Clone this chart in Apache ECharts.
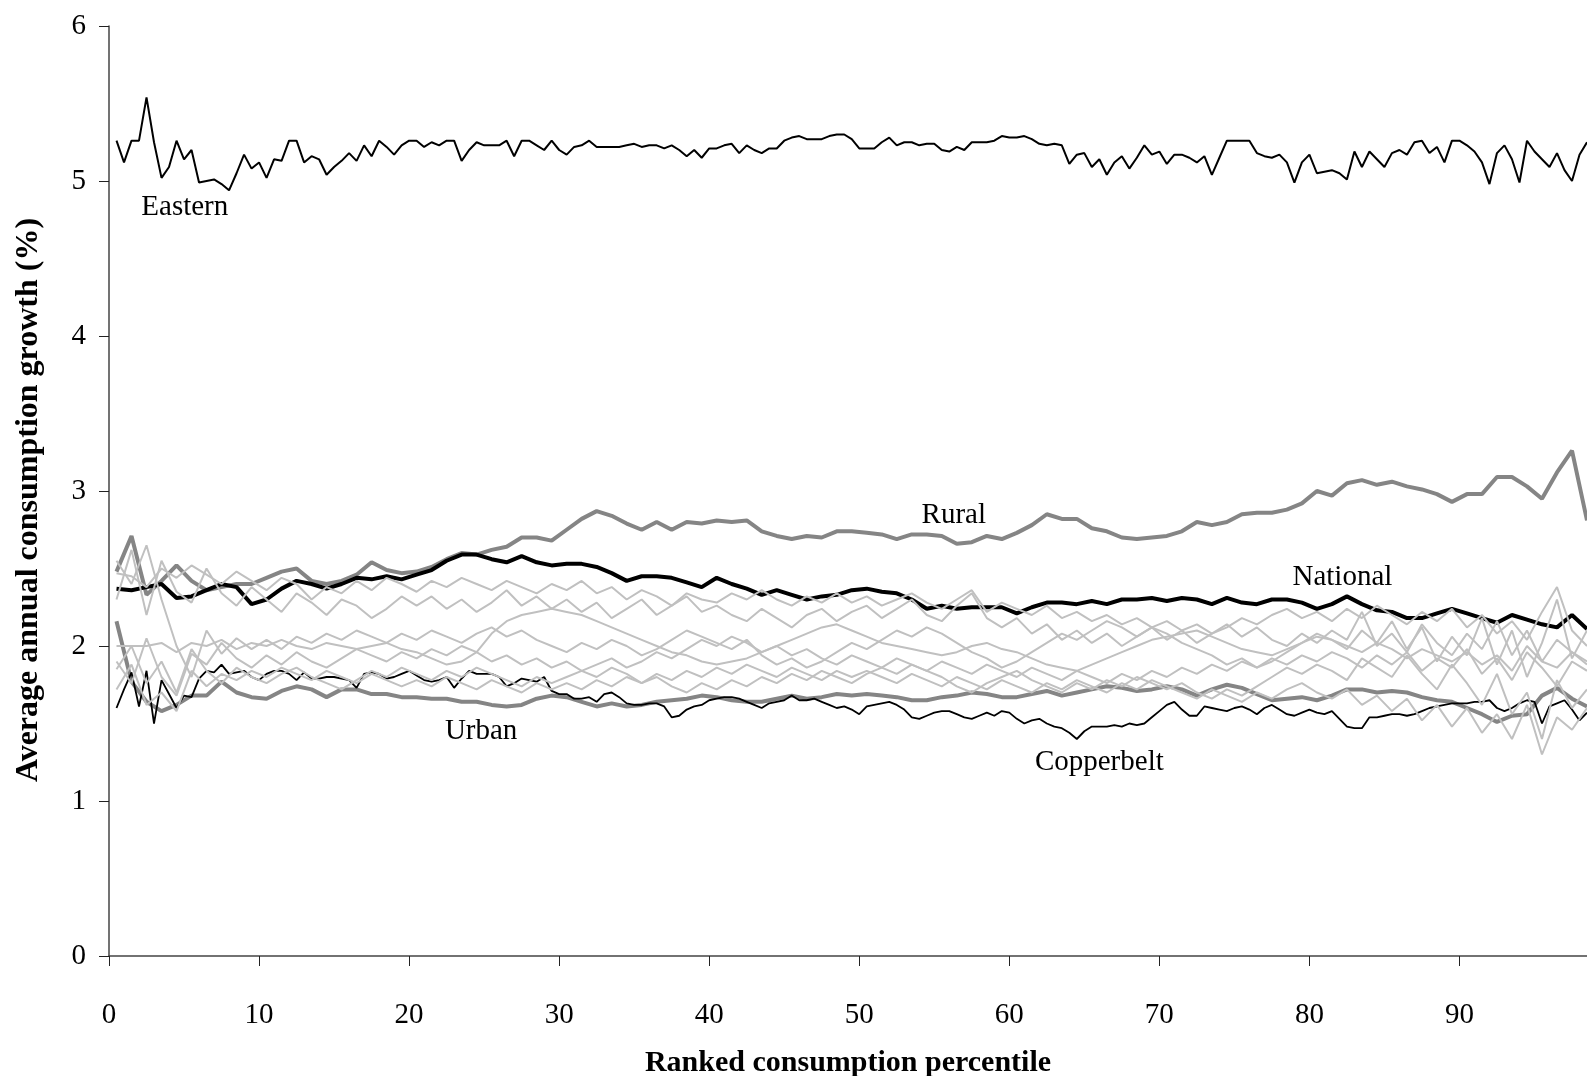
<!DOCTYPE html>
<html>
<head>
<meta charset="utf-8">
<title>Average annual consumption growth by percentile</title>
<script src="https://cdn.jsdelivr.net/npm/echarts@6/dist/echarts.min.js"></script>
<style>
    html, body { margin: 0; padding: 0; background: #fff; }
    #chart { width: 1587px; height: 1076px; }
</style>
</head>
<body>
<div id="chart"></div>
<script>
// percentile ticks shown on the x axis
const xTicks = [0, 10, 20, 30, 40, 50, 60, 70, 80, 90];

// thin lines are sampled every half percentile, the others every percentile
const pctHalf = [];
for (let i = 1; i <= 197; i++) { pctHalf.push(i / 2); }
const pctWhole = [];
for (let i = 0; i < 99; i++) { pctWhole.push(i + 0.5); }

const eastern = [
    5.26, 5.12, 5.26, 5.26, 5.54, 5.25, 5.02, 5.09, 5.26, 5.14,
    5.20, 4.99, 5.00, 5.01, 4.98, 4.94, 5.05, 5.17, 5.08, 5.12,
    5.02, 5.14, 5.13, 5.26, 5.26, 5.12, 5.16, 5.14, 5.04, 5.09,
    5.13, 5.18, 5.13, 5.23, 5.16, 5.26, 5.22, 5.17, 5.23, 5.26,
    5.26, 5.22, 5.25, 5.23, 5.26, 5.26, 5.13, 5.20, 5.25, 5.23,
    5.23, 5.23, 5.26, 5.16, 5.26, 5.26, 5.23, 5.20, 5.26, 5.20,
    5.17, 5.22, 5.23, 5.26, 5.22,
    5.22, 5.22, 5.22, 5.23, 5.24, 5.22, 5.23, 5.23, 5.21, 5.23,
    5.20, 5.16, 5.20, 5.15, 5.21, 5.21, 5.23, 5.24, 5.18, 5.23,
    5.20, 5.18, 5.21, 5.21, 5.26, 5.28, 5.29, 5.27, 5.27, 5.27,
    5.29, 5.30, 5.30, 5.27, 5.21, 5.21, 5.21, 5.25, 5.28, 5.23,
    5.25, 5.25, 5.23, 5.24, 5.24, 5.20, 5.19, 5.22, 5.20, 5.25,
    5.25, 5.25, 5.26, 5.29, 5.28, 5.28, 5.29, 5.27, 5.24, 5.23,
    5.24, 5.23, 5.11, 5.17, 5.18,
    5.09, 5.14, 5.04, 5.12, 5.16, 5.08, 5.15, 5.23, 5.17, 5.19,
    5.11, 5.17, 5.17, 5.15, 5.12, 5.16, 5.04, 5.15, 5.26, 5.26,
    5.26, 5.26, 5.18, 5.16, 5.15, 5.17, 5.12, 4.99, 5.12, 5.17,
    5.05, 5.06, 5.07, 5.05, 5.01, 5.19, 5.09, 5.19, 5.14, 5.09,
    5.18, 5.20, 5.17, 5.25, 5.26, 5.18, 5.22, 5.12, 5.26, 5.26,
    5.23, 5.19, 5.12, 4.98, 5.18, 5.23, 5.14, 4.99, 5.26, 5.19,
    5.14, 5.09, 5.18, 5.07, 5.00, 5.17, 5.25
];

const copperbelt = [
    1.60, 1.72, 1.83, 1.61, 1.84, 1.50, 1.78, 1.69, 1.60, 1.68,
    1.67, 1.79, 1.84, 1.83, 1.88, 1.82, 1.83, 1.84, 1.80, 1.78,
    1.82, 1.84, 1.84, 1.82, 1.78, 1.83, 1.79, 1.79, 1.80, 1.80,
    1.79, 1.78, 1.73, 1.82, 1.83, 1.82, 1.79, 1.80, 1.82, 1.84,
    1.81, 1.78, 1.77, 1.78, 1.80, 1.73, 1.79, 1.84, 1.82, 1.82,
    1.82, 1.80,
    1.74, 1.76, 1.79, 1.78, 1.77, 1.80, 1.71, 1.69, 1.69, 1.66,
    1.66, 1.67, 1.64, 1.69, 1.70, 1.67, 1.63, 1.62, 1.62, 1.63,
    1.63, 1.61, 1.54, 1.55, 1.59, 1.61, 1.62, 1.65, 1.66, 1.67,
    1.67, 1.66, 1.64, 1.62, 1.60, 1.63, 1.64, 1.65, 1.68, 1.65,
    1.65, 1.66, 1.64, 1.62, 1.60, 1.61, 1.59, 1.56, 1.61, 1.62,
    1.63, 1.64, 1.62, 1.59, 1.54, 1.53, 1.55, 1.57, 1.58, 1.58,
    1.56, 1.54, 1.53, 1.55, 1.57, 1.55, 1.58, 1.57, 1.53, 1.50,
    1.52, 1.53, 1.50, 1.48, 1.47, 1.44, 1.40, 1.45, 1.48, 1.48,
    1.48, 1.49, 1.48, 1.50, 1.49, 1.50, 1.54, 1.58, 1.62, 1.64,
    1.59, 1.55, 1.55, 1.61, 1.60, 1.59, 1.58, 1.60,
    1.61, 1.59, 1.56, 1.60, 1.62, 1.59, 1.56, 1.55, 1.57, 1.59,
    1.57, 1.56, 1.58, 1.53, 1.48, 1.47, 1.47, 1.54, 1.54, 1.55,
    1.56, 1.56, 1.55, 1.56, 1.58, 1.60, 1.61, 1.62, 1.63, 1.63,
    1.63, 1.64, 1.64, 1.65, 1.60, 1.58, 1.60, 1.63, 1.65, 1.64,
    1.50, 1.61, 1.63, 1.65, 1.59, 1.52, 1.57
];

const rural = [
    2.48, 2.71, 2.33, 2.42, 2.52, 2.42, 2.36, 2.38, 2.40, 2.40,
    2.44, 2.48, 2.50, 2.42, 2.40, 2.42, 2.46, 2.54, 2.49, 2.47,
    2.48, 2.51, 2.56, 2.60, 2.59, 2.62, 2.64, 2.70, 2.70, 2.68,
    2.75, 2.82, 2.87, 2.84, 2.79, 2.75, 2.80, 2.75, 2.80, 2.79,
    2.81, 2.80, 2.81, 2.74, 2.71, 2.69, 2.71, 2.70, 2.74, 2.74,
    2.73, 2.72, 2.69, 2.72, 2.72, 2.71, 2.66, 2.67, 2.71, 2.69,
    2.73, 2.78, 2.85, 2.82, 2.82, 2.76, 2.74, 2.70, 2.69, 2.70,
    2.71, 2.74, 2.80, 2.78, 2.80, 2.85, 2.86, 2.86, 2.88, 2.92,
    3.00, 2.97, 3.05, 3.07, 3.04, 3.06, 3.03, 3.01, 2.98, 2.93,
    2.98, 2.98, 3.09, 3.09, 3.03, 2.95, 3.12, 3.26, 2.81
];

const national = [
    2.37, 2.36, 2.38, 2.40, 2.31, 2.32, 2.36, 2.40, 2.38, 2.27,
    2.30, 2.37, 2.42, 2.40, 2.37, 2.40, 2.44, 2.43, 2.45, 2.43,
    2.46, 2.49, 2.55, 2.59, 2.59, 2.56, 2.54, 2.58, 2.54, 2.52,
    2.53, 2.53, 2.51, 2.47, 2.42, 2.45, 2.45, 2.44, 2.41, 2.38,
    2.44, 2.40, 2.37, 2.33, 2.36, 2.33, 2.30, 2.32, 2.33, 2.36,
    2.37, 2.35, 2.34, 2.30, 2.24, 2.26, 2.24, 2.25, 2.25, 2.25,
    2.21, 2.25, 2.28, 2.28, 2.27, 2.29, 2.27, 2.30, 2.30, 2.31,
    2.29, 2.31, 2.30, 2.27, 2.31, 2.28, 2.27, 2.30, 2.30, 2.28,
    2.24, 2.27, 2.32, 2.27, 2.23, 2.22, 2.18, 2.18, 2.21, 2.24,
    2.21, 2.18, 2.15, 2.20, 2.17, 2.14, 2.12, 2.20, 2.11
];

const urban = [
    2.16, 1.77, 1.64, 1.58, 1.62, 1.68, 1.68, 1.77, 1.70, 1.67,
    1.66, 1.71, 1.74, 1.72, 1.67, 1.72, 1.72, 1.69, 1.69, 1.67,
    1.67, 1.66, 1.66, 1.64, 1.64, 1.62, 1.61, 1.62, 1.66, 1.68,
    1.67, 1.64, 1.61, 1.63, 1.61, 1.62, 1.64, 1.65, 1.66, 1.68,
    1.67, 1.65, 1.64, 1.64, 1.66, 1.68, 1.66, 1.67, 1.69, 1.68,
    1.69, 1.68, 1.67, 1.65, 1.65, 1.67, 1.68, 1.70, 1.69, 1.67,
    1.67, 1.69, 1.71, 1.68, 1.70, 1.72, 1.74, 1.73, 1.71, 1.72,
    1.74, 1.72, 1.68, 1.72, 1.75, 1.73, 1.69, 1.65, 1.66, 1.67,
    1.65, 1.68, 1.72, 1.72, 1.70, 1.71, 1.70, 1.67, 1.65, 1.64,
    1.60, 1.56, 1.51, 1.55, 1.56, 1.68, 1.73, 1.66, 1.61
];

// remaining provinces, drawn in light grey without labels
const provinceA = [
    2.47, 2.45, 2.38, 2.50, 2.44, 2.52, 2.46, 2.40, 2.48, 2.42,
    2.36, 2.44, 2.40, 2.30, 2.38, 2.34, 2.42, 2.36, 2.44, 2.40,
    2.35, 2.42, 2.38, 2.44, 2.40, 2.36, 2.42, 2.38, 2.34, 2.40,
    2.36, 2.42, 2.34, 2.38, 2.30, 2.36, 2.32, 2.26, 2.34, 2.30,
    2.28, 2.34, 2.30, 2.36, 2.30, 2.26, 2.32, 2.28, 2.34, 2.28,
    2.32, 2.26, 2.30, 2.34, 2.28, 2.24, 2.30, 2.36, 2.22, 2.28,
    2.24, 2.20, 2.26, 2.18, 2.22, 2.16, 2.20, 2.14, 2.18, 2.12,
    2.16, 2.10, 2.14, 2.08, 2.12, 2.18, 2.14, 2.20, 2.24, 2.18,
    2.22, 2.16, 2.24, 2.18, 2.26, 2.20, 2.14, 2.22, 2.16, 2.24,
    2.12, 2.20, 2.08, 2.16, 2.04, 2.22, 2.38, 2.10, 2.00
];
const provinceB = [
    2.30, 2.62, 2.20, 2.55, 2.35, 2.28, 2.50, 2.34, 2.26, 2.38,
    2.30, 2.22, 2.34, 2.28, 2.20, 2.30, 2.26, 2.18, 2.24, 2.32,
    2.26, 2.32, 2.24, 2.30, 2.22, 2.28, 2.36, 2.26, 2.32, 2.24,
    2.30, 2.22, 2.28, 2.18, 2.24, 2.30, 2.20, 2.26, 2.32, 2.22,
    2.26, 2.20, 2.16, 2.24, 2.18, 2.12, 2.20, 2.24, 2.16, 2.22,
    2.26, 2.18, 2.24, 2.30, 2.20, 2.16, 2.26, 2.34, 2.18, 2.12,
    2.18, 2.08, 2.14, 2.04, 2.10, 2.02, 2.08, 2.00, 2.06, 2.12,
    2.04, 2.10, 2.02, 2.08, 2.14, 2.06, 2.12, 2.04, 2.00, 2.08,
    2.02, 2.10, 2.04, 2.22, 2.00, 2.08, 1.96, 2.14, 2.02, 1.94,
    2.08, 1.98, 2.16, 1.94, 2.10, 1.90, 2.04, 1.96, 1.88
];
const provinceC = [
    2.00, 2.00, 2.00, 2.02, 1.96, 2.02, 2.00, 2.04, 1.98, 2.02,
    2.00, 2.04, 2.00, 1.98, 2.02, 2.00, 1.98, 2.00, 2.02, 1.98,
    1.96, 1.92, 1.88, 1.90, 1.96, 2.08, 2.16, 2.20, 2.22, 2.24,
    2.22, 2.20, 2.16, 2.12, 2.08, 2.04, 2.00, 1.96, 1.94, 1.90,
    1.88, 1.90, 1.92, 1.96, 2.00, 2.04, 2.08, 2.12, 2.14, 2.10,
    2.06, 2.02, 2.00, 1.98, 1.96, 1.94, 1.96, 2.00, 2.02, 1.98,
    1.96, 1.92, 1.88, 1.86, 1.84, 1.88, 1.92, 1.96, 2.00, 2.04,
    2.06, 2.08, 2.10, 2.06, 2.02, 1.98, 1.96, 1.94, 1.98, 2.02,
    2.06, 2.04, 2.00, 1.96, 2.02, 1.98, 1.92, 1.98, 1.94, 1.90,
    1.96, 1.88, 1.94, 1.84, 2.00, 1.90, 1.86, 1.96, 1.90
];
const provinceD = [
    1.90, 1.76, 2.05, 1.80, 1.68, 1.95, 1.88, 2.02, 1.92, 1.86,
    1.94, 1.88, 1.96, 1.90, 1.86, 1.92, 1.98, 1.94, 1.90, 1.96,
    1.92, 1.98, 1.94, 2.00, 1.96, 1.90, 1.94, 1.88, 1.92, 1.86,
    1.90, 1.84, 1.88, 1.92, 1.86, 1.90, 1.96, 1.92, 1.98, 2.04,
    2.00, 2.06, 2.02, 1.96, 2.00, 1.94, 1.98, 1.92, 1.88, 1.94,
    1.90, 1.86, 1.92, 1.88, 1.84, 1.90, 1.86, 1.82, 1.88, 1.84,
    1.80, 1.86, 1.82, 1.78, 1.84, 1.80, 1.76, 1.82, 1.78, 1.84,
    1.80, 1.86, 1.82, 1.88, 1.84, 1.90, 1.86, 1.92, 1.88, 1.94,
    1.90, 1.96, 1.92, 1.86, 1.94, 1.88, 1.96, 1.84, 1.92, 1.86,
    1.98, 1.82, 1.92, 1.78, 1.96, 1.86, 1.74, 1.90, 1.84
];
const provinceE = [
    1.72, 1.88, 1.62, 1.70, 1.58, 1.84, 1.74, 1.82, 1.78, 1.84,
    1.80, 1.86, 1.82, 1.78, 1.84, 1.80, 1.76, 1.82, 1.78, 1.74,
    1.78, 1.74, 1.80, 1.76, 1.72, 1.78, 1.74, 1.70, 1.76, 1.72,
    1.76, 1.72, 1.78, 1.74, 1.80, 1.76, 1.82, 1.78, 1.84, 1.80,
    1.86, 1.82, 1.88, 1.84, 1.80, 1.86, 1.82, 1.78, 1.84, 1.80,
    1.84, 1.80, 1.76, 1.82, 1.78, 1.74, 1.80, 1.76, 1.72, 1.78,
    1.74, 1.70, 1.76, 1.72, 1.78, 1.74, 1.70, 1.76, 1.72, 1.78,
    1.74, 1.70, 1.66, 1.72, 1.68, 1.64, 1.70, 1.66, 1.72, 1.76,
    1.70, 1.66, 1.72, 1.62, 1.68, 1.58, 1.66, 1.52, 1.62, 1.48,
    1.60, 1.44, 1.56, 1.40, 1.62, 1.30, 1.54, 1.46, 1.60
];
const provinceF = [
    2.55, 2.40, 2.65, 2.30, 2.00, 1.80, 2.10, 1.95, 2.05, 1.98,
    2.04, 1.98, 2.06, 2.02, 2.08, 2.04, 2.10, 2.06, 2.02, 2.08,
    2.04, 2.10, 2.06, 2.02, 2.08, 2.12, 2.06, 2.10, 2.04, 2.00,
    1.96, 2.02, 1.98, 2.04, 2.00, 1.94, 1.98, 2.04, 2.10, 2.06,
    2.02, 1.98, 2.04, 1.94, 1.88, 1.92, 1.86, 1.90, 1.96, 2.02,
    1.98, 2.04, 2.10, 2.06, 2.12, 2.08, 2.02, 1.96, 1.92, 1.86,
    1.90, 1.96, 2.02, 2.08, 2.04, 2.10, 2.16, 2.12, 2.06, 2.12,
    2.08, 2.02, 1.98, 1.94, 1.88, 1.92, 1.86, 1.90, 1.96, 2.02,
    2.08, 2.04, 1.98, 2.10, 2.02, 2.16, 1.98, 2.12, 1.90, 2.06,
    1.94, 2.18, 1.88, 2.10, 1.80, 2.02, 2.30, 1.92, 2.10
];
const provinceG = [
    1.85, 2.00, 1.76, 1.90, 1.70, 1.98, 1.84, 1.76, 1.86, 1.80,
    1.76, 1.82, 1.86, 1.80, 1.76, 1.72, 1.78, 1.84, 1.80, 1.86,
    1.82, 1.78, 1.84, 1.80, 1.86, 1.82, 1.78, 1.74, 1.80, 1.76,
    1.80, 1.84, 1.80, 1.86, 1.82, 1.76, 1.80, 1.74, 1.70, 1.76,
    1.72, 1.78, 1.74, 1.80, 1.76, 1.82, 1.78, 1.84, 1.80, 1.76,
    1.82, 1.86, 1.82, 1.88, 1.84, 1.80, 1.74, 1.70, 1.76, 1.80,
    1.84, 1.78, 1.74, 1.70, 1.76, 1.72, 1.78, 1.74, 1.80, 1.76,
    1.72, 1.76, 1.70, 1.66, 1.72, 1.68, 1.74, 1.80, 1.86, 1.82,
    1.88, 1.84, 1.78, 1.92, 1.86, 1.80, 1.94, 1.82, 1.72, 1.88,
    1.76, 1.62, 1.82, 1.56, 1.70, 1.40, 1.78, 1.60, 1.72
];
const provinces = [provinceA, provinceB, provinceC, provinceD, provinceE, provinceF, provinceG];

// label text and the data point it sits at
const labels = [
    { series: 'Eastern', at: [5.05, 4.83] },
    { series: 'Rural', at: [56.3, 2.84] },
    { series: 'National', at: [82.2, 2.44] },
    { series: 'Urban', at: [24.8, 1.45] },
    { series: 'Copperbelt', at: [66.0, 1.25] }
];

const serif = "'Liberation Serif', 'Times New Roman', serif";

function pairs(xs, ys) {
    return ys.map((v, i) => [xs[i], v]);
}

function labelPoint(name) {
    let item = labels.find(l => l.series === name);
    return {
        silent: true,
        symbol: 'circle',
        symbolSize: 0,
        label: {
            show: true,
            position: 'inside',
            formatter: name,
            color: '#000',
            fontFamily: serif,
            fontSize: 29
        },
        data: [{ coord: item.at }]
    };
}

function line(name, xs, ys, color, width) {
    return {
        name: name,
        type: 'line',
        data: pairs(xs, ys),
        symbol: 'none',
        clip: true,
        lineStyle: { color: color, width: width },
        emphasis: { disabled: true },
        markPoint: labelPoint(name)
    };
}

let series = [
    line('Rural', pctWhole, rural, '#858585', 4),
    line('Urban', pctWhole, urban, '#858585', 4),
    line('Copperbelt', pctHalf, copperbelt, '#000', 1.8),
    line('National', pctWhole, national, '#000', 4),
    line('Eastern', pctHalf, eastern, '#000', 2)
];
provinces.forEach((p, i) => {
    series.push({
        name: 'province' + i,
        type: 'line',
        data: pairs(pctWhole, p),
        symbol: 'none',
        clip: true,
        lineStyle: { color: '#c0c0c0', width: 2 },
        emphasis: { disabled: true }
    });
});

let chart = echarts.init(document.getElementById('chart'));
chart.setOption({
    animation: false,
    backgroundColor: '#fff',
    grid: { left: 109, top: 26, right: 0, bottom: 120, containLabel: false, outerBoundsMode: 'none' },
    xAxis: {
        type: 'value',
        min: 0,
        max: 98.5,
        name: 'Ranked consumption percentile',
        nameLocation: 'middle',
        nameGap: 92,
        nameTextStyle: { fontFamily: serif, fontSize: 30, fontWeight: 'bold', color: '#000' },
        axisLine: { show: true, lineStyle: { color: '#444', width: 1.5 } },
        axisTick: { show: true, inside: false, length: 10, customValues: xTicks, lineStyle: { color: '#222' } },
        axisLabel: { customValues: xTicks, margin: 45, fontFamily: serif, fontSize: 29, color: '#000' },
        splitLine: { show: false }
    },
    yAxis: {
        type: 'value',
        min: 0,
        max: 6,
        interval: 1,
        name: 'Average annual consumption growth (%)',
        nameLocation: 'middle',
        nameGap: 64,
        nameRotate: 90,
        nameTextStyle: { fontFamily: serif, fontSize: 32, fontWeight: 'bold', color: '#000', padding: [0, 18, 0, 0] },
        axisLine: { show: true, lineStyle: { color: '#444', width: 1.5 } },
        axisTick: { show: true, inside: false, length: 10, lineStyle: { color: '#222' } },
        axisLabel: { margin: 23, fontFamily: serif, fontSize: 29, color: '#000' },
        splitLine: { show: false }
    },
    series: series
});
</script>
</body>
</html>
